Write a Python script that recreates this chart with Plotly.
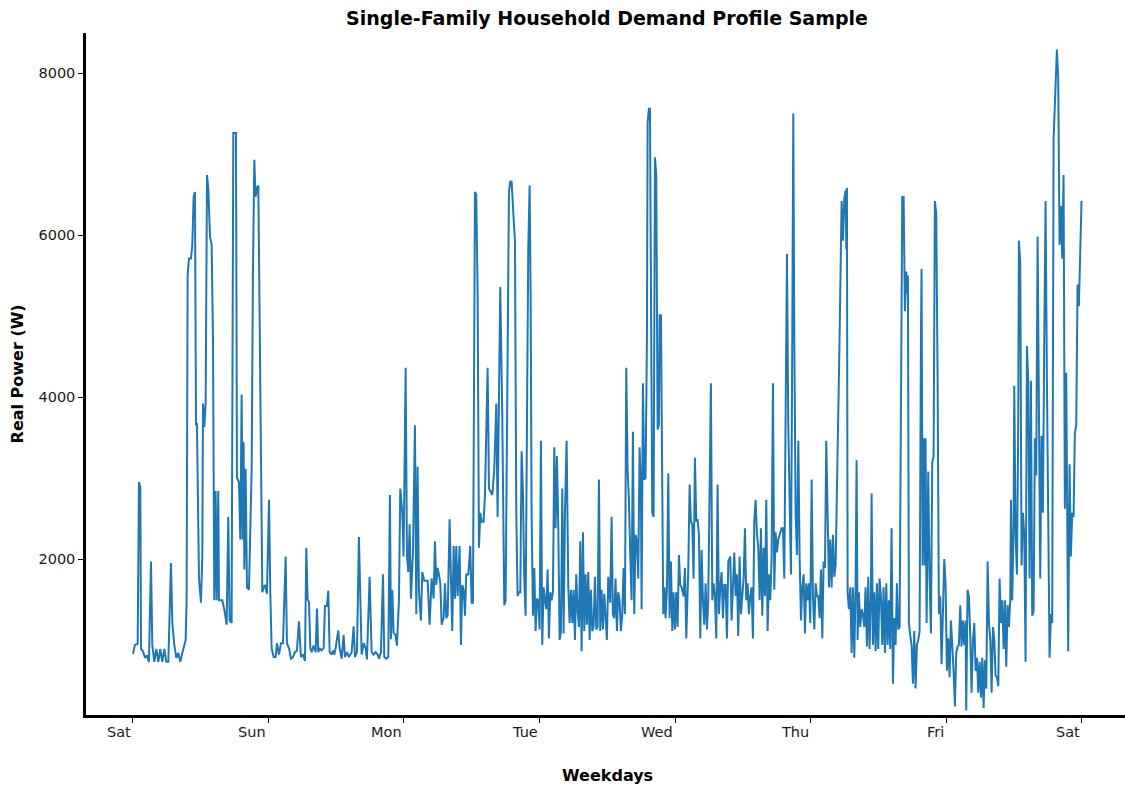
import plotly.graph_objects as go

# One week of household demand, Saturday 00:00 to the following Saturday 00:00.
# Time is given in hours since the start of the week, power in watts.
hours_sat = [0.00, 0.35, 0.83, 1.06, 1.30, 1.42, 1.77, 2.13, 2.48, 2.83, 3.19, 3.42, 3.78, 4.13, 4.49, 4.84,
             5.19, 5.55, 5.90, 6.26, 6.73, 6.97, 7.32, 7.67, 8.03, 8.38, 8.74, 9.09, 9.33, 9.50, 9.68, 9.92,
             10.27, 10.51, 10.74, 10.98, 11.16, 11.33, 11.51, 11.69, 12.04, 12.28, 12.40, 12.64, 12.87, 13.11,
             13.34, 13.64, 13.93, 14.17, 14.40, 14.64, 14.82, 15.11, 15.23, 15.82, 16.17, 16.59, 16.88, 17.12,
             17.47, 17.77, 18.24, 18.42, 18.77, 19.01, 19.25, 19.42, 19.60, 19.72, 19.95, 20.19, 20.54]
watts_sat = [830, 940, 950, 2950, 2890, 890, 860, 780, 810, 730, 1970, 940, 730, 890, 730, 890,
             730, 890, 730, 730, 1950, 1210, 940, 780, 840, 730, 840, 940, 1000, 1490, 5500, 5710,
             5710, 5880, 6470, 6530, 3650, 3680, 2570, 1760, 1460, 2030, 3920, 3630, 3920, 6740,
             6580, 5980, 5880, 4740, 1490, 2840, 1490, 2840, 1490, 1490, 1380, 1190, 2520, 1240,
             1210, 7260, 7260, 3000, 2950, 2240, 4030, 2240, 3440, 1870, 3110, 1650, 1620]

hours_sun = [21.02, 21.25, 21.49, 21.72, 21.96, 22.20, 22.43, 22.67, 22.91, 23.14, 23.38, 23.73, 24.09, 24.32,
             24.56, 24.91, 25.27, 25.50, 25.86, 26.21, 26.57, 27.04, 27.27, 27.63, 27.98, 28.34, 28.69, 29.04,
             29.40, 29.75, 30.11, 30.46, 30.70, 30.93, 31.17, 31.41, 31.64, 32.00, 32.35, 32.59, 32.82, 33.06,
             33.41, 33.77, 34.00, 34.36, 34.59, 34.83, 35.18, 35.42, 35.66, 35.89, 36.36, 36.60, 36.96, 37.31,
             37.55, 37.90, 38.25, 38.73, 39.08, 39.32, 39.67, 40.02, 40.26, 40.50, 40.85, 41.21]
watts_sun = [3110, 5550, 6930, 6470, 6580, 6610, 4740, 2570, 1590, 1650, 1680, 1570, 2730, 1590,
             900, 790, 790, 960, 820, 960, 960, 2030, 960, 900, 770, 790, 850, 870,
             1230, 790, 820, 740, 2140, 1500, 1470, 900, 850, 930, 850, 1390, 850, 900,
             870, 900, 1420, 1420, 1610, 850, 820, 870, 820, 900, 1120, 900, 770, 1060,
             790, 850, 790, 850, 1170, 790, 850, 2270, 1340, 820, 960, 900]

hours_mon = [41.44, 41.91, 42.27, 42.62, 42.98, 43.33, 43.57, 43.92, 44.28, 44.51, 44.86, 45.22, 45.51, 45.69,
             45.93, 46.16, 46.52, 46.75, 47.11, 47.34, 47.70, 47.93, 48.29, 48.53, 48.76, 49.00, 49.23, 49.59,
             49.94, 50.18, 50.41, 50.65, 51.00, 51.24, 51.59, 51.95, 52.19, 52.54, 52.89, 53.25, 53.48, 53.72,
             53.96, 54.19, 54.43, 54.67, 55.02, 55.26, 55.49, 55.73, 56.08, 56.32, 56.55, 56.79, 57.03, 57.26,
             57.50, 57.85, 58.09, 58.32, 58.56, 58.80, 59.03, 59.39, 59.74, 59.98, 60.21, 60.33, 60.57, 60.80,
             61.04, 61.28, 61.51, 61.75, 62.10, 62.34]
watts_mon = [760, 1780, 850, 820, 850, 820, 770, 850, 1810, 790, 770, 790, 2790, 1010,
             1620, 1090, 1060, 930, 1490, 2870, 2570, 2030, 4360, 2030, 1840, 2430, 1510, 2080,
             3650, 1320, 3140, 1590, 1240, 1840, 1730, 1730, 1730, 1190, 1760, 1510, 2220, 1680,
             1890, 1810, 1700, 1190, 1270, 1700, 1270, 1300, 2490, 1760, 1110, 2160, 1510, 2160,
             1540, 2160, 940, 1680, 1620, 1300, 1810, 1810, 2160, 1460, 1460, 3110, 6530, 6500,
             5280, 2140, 2570, 2460, 2460, 2790]

hours_tue = [62.81, 63.05, 63.28, 63.64, 63.99, 64.35, 64.58, 64.82, 65.05, 65.41, 65.76, 66.00, 66.35, 66.59,
             66.83, 67.06, 67.42, 67.65, 67.89, 68.12, 68.36, 68.60, 68.83, 69.07, 69.30, 69.54, 69.78, 70.01,
             70.25, 70.43, 70.60, 70.84, 71.08, 71.31, 71.55, 71.78, 72.02, 72.26, 72.49, 72.73, 72.97, 73.20,
             73.44, 73.67, 73.91, 74.15, 74.38, 74.62, 74.85, 75.09, 75.33, 75.56, 75.80, 76.04, 76.27, 76.51,
             76.80, 77.10, 77.33, 77.57, 77.81, 78.04, 78.28, 78.51, 78.75, 78.99, 79.22, 79.46, 79.70, 79.93,
             80.17, 80.40, 80.64, 80.88, 81.11, 81.35, 81.58, 81.82, 82.06, 82.29, 82.53, 82.76, 83.00, 83.24,
             83.47, 83.71, 83.94, 84.18]
watts_tue = [4360, 2870, 2840, 2790, 3110, 3920, 2520, 3920, 5360, 3760, 1430, 1490, 4740, 6530,
             6660, 6660, 6200, 5930, 2570, 1540, 1590, 1590, 3330, 2840, 1760, 1300, 3650, 5820,
             6610, 5280, 2570, 1300, 1890, 1110, 1510, 1490, 1130, 3460, 940, 1650, 1490, 1380,
             1870, 1020, 1590, 1490, 1590, 3380, 2380, 3270, 2380, 1000, 1110, 2870, 1080, 2570,
             3460, 1650, 1210, 1620, 1210, 1620, 1000, 1810, 1350, 1160, 2220, 860, 2330, 1110,
             1810, 1190, 1840, 1000, 1620, 1110, 1160, 1780, 1130, 1160, 2980, 1110, 1620, 1130,
             1570, 1320, 1000, 1780]

hours_wed = [84.53, 84.77, 85.00, 85.24, 85.47, 85.71, 85.95, 86.18, 86.42, 86.66, 86.89, 87.13, 87.37, 87.60,
             87.84, 88.08, 88.31, 88.55, 88.78, 89.02, 89.26, 89.49, 89.73, 89.97, 90.08, 90.32, 90.56, 90.79,
             91.03, 91.15, 91.38, 91.56, 91.74, 91.97, 92.21, 92.45, 92.68, 92.92, 93.15, 93.27, 93.51, 93.74,
             93.92, 94.16, 94.33, 94.57, 94.81, 95.04, 95.28, 95.52, 95.75, 95.99, 96.22, 96.46, 96.70, 96.93,
             97.17, 97.52, 97.76, 98.00, 98.35, 98.59, 98.82, 99.06, 99.29, 99.53, 99.77, 100.00, 100.24, 100.48,
             100.71, 100.95, 101.18, 101.42, 101.66, 101.89, 102.13, 102.36, 102.60, 102.84, 103.07, 103.31,
             103.54, 103.78, 104.02, 104.25, 104.49, 104.73, 104.96, 105.20, 105.44]
watts_wed = [1460, 2520, 1320, 1270, 1760, 1110, 1590, 1490, 1110, 1320, 1890, 1320, 4360, 3110,
             2730, 2030, 1490, 3570, 1320, 2300, 2220, 1760, 3380, 2840, 1380, 4170, 2980, 3000,
             4740, 7390, 7560, 7560, 5820, 2570, 2520, 6960, 6740, 3600, 3650, 5010, 5010, 3110,
             1320, 1650, 1270, 1620, 3060, 1270, 1970, 1110, 1590, 1130, 1590, 1160, 2050, 1680,
             1650, 1540, 1890, 1020, 1870, 2920, 2460, 2430, 1760, 3250, 2460, 2490, 2300, 1020,
             2110, 1490, 1190, 1700, 1130, 1490, 2620, 4170, 1490, 1700, 1540, 1020,
             2920, 1320, 1650, 1840, 1270, 1680, 1680, 1020, 1970]

hours_thu = [105.79, 106.02, 106.26, 106.50, 106.73, 106.97, 107.20, 107.44, 107.68, 107.91, 108.15, 108.39,
             108.62, 108.86, 109.09, 109.33, 109.57, 109.80, 110.04, 110.28, 110.51, 110.75, 110.99, 111.22,
             111.46, 111.69, 111.93, 112.17, 112.40, 112.64, 112.88, 113.11, 113.35, 113.58, 113.82, 114.06,
             114.29, 114.53, 114.88, 115.12, 115.36, 115.59, 115.83, 116.06, 116.30, 116.54, 116.77, 116.95,
             117.13, 117.36, 117.60, 117.84, 118.07, 118.31, 118.54, 118.78, 119.02, 119.25, 119.49, 119.72,
             119.96, 120.20, 120.43, 120.67, 120.91, 121.14, 121.38, 121.61, 121.85, 122.09, 122.32, 122.56,
             122.79, 123.03, 123.27, 123.50, 123.74, 123.98, 124.21, 124.45, 124.80, 125.15, 125.51, 125.74,
             125.98, 126.21]
watts_thu = [2030, 1240, 1760, 2080, 1540, 1810, 1050, 2030, 1320, 1540, 1760, 2380,
             1490, 1700, 1320, 1540, 1650, 1020, 2460, 2730, 2300, 2140, 1490, 2380,
             1300, 2140, 1540, 2730, 1110, 1810, 1490, 2030, 4170, 1620, 2330, 2080,
             2240, 2300, 2380, 2380, 1760, 3760, 5770, 3650, 2570, 1810, 4740, 7500,
             4740, 2570, 2050, 3460, 2030, 1240, 1650, 1810, 1080, 1700, 1490, 1700,
             1210, 2980, 1540, 1130, 1700, 1540, 1540, 1270, 1870, 1020, 1970, 1890,
             3460, 2680, 1650, 2240, 1650, 2300, 1780, 1920, 3110, 4740, 6420, 5930,
             6440, 6550]

hours_fri = [126.34, 126.45, 126.57, 126.80, 127.04, 127.28, 127.51, 127.75, 127.98, 128.16, 128.34, 128.57,
             128.81, 129.05, 129.28, 129.52, 129.75, 129.99, 130.23, 130.46, 130.70, 130.82, 131.05, 131.29,
             131.53, 131.76, 132.00, 132.23, 132.47, 132.71, 132.94, 133.18, 133.42, 133.65, 133.89, 134.12,
             134.36, 134.60, 134.83, 135.07, 135.31, 135.54, 135.78, 136.01, 136.25, 136.49, 136.72, 136.96,
             137.08, 137.25, 137.43, 137.67, 137.90, 138.14, 138.38, 138.61, 138.85, 139.08, 139.32, 139.56,
             139.67, 139.85, 140.03, 140.26, 140.38, 140.56, 140.85, 141.09, 141.33, 141.56, 141.80, 142.03,
             142.27, 142.51, 142.74, 142.98, 143.21, 143.45, 143.69, 143.92, 144.16, 144.39, 144.63, 144.87,
             145.10, 145.34, 145.57, 145.81, 146.05, 146.28, 146.52, 146.75, 146.99, 147.23, 147.46, 147.58,
             147.82, 148.05]
watts_fri = [5820, 6580, 1590, 1380, 1650, 840, 1650, 780, 1650, 3220, 1000, 1590,
             1160, 1380, 1320, 1160, 1650, 920, 1780, 890, 1540, 2810, 940, 1590,
             860, 1700, 890, 1760, 1540, 940, 1650, 840, 1700, 940, 1490, 890,
             2380, 460, 1270, 940, 1700, 1130, 1160, 3650, 6470, 6470, 5060, 5550,
             5280, 5500, 1210, 1050, 940, 460, 1110, 400, 940, 1000, 1110, 4740,
             5580, 1920, 3490, 1920, 3490, 1210, 3080, 1760, 1080, 3190, 3270, 6420,
             6260, 4200, 1320, 1540, 700, 1320, 2000, 1700, 620, 1020, 540, 1240,
             970, 620, 180, 840, 920, 940, 1430, 920, 1240, 940, 1240, 130,
             1620, 1540]

hours_end = [148.30, 148.53, 148.77, 149.01, 149.24, 149.48, 149.71, 149.95, 150.19, 150.42, 150.66, 150.89,
             151.13, 151.37, 151.60, 151.84, 152.08, 152.31, 152.55, 152.78, 153.02, 153.26, 153.49, 153.73,
             153.96, 154.20, 154.44, 154.67, 154.91, 155.14, 155.38, 155.50, 155.73, 155.97, 156.09, 156.32,
             156.56, 156.79, 156.91, 157.15, 157.38, 157.62, 157.86, 158.09, 158.33, 158.56, 158.80, 159.04,
             159.27, 159.51, 159.74, 159.98, 160.22, 160.45, 160.69, 160.92, 161.16, 161.40, 161.63, 161.87,
             162.10, 162.34, 162.58, 162.81, 163.05, 163.28, 163.64, 163.87, 164.11, 164.35, 164.58, 164.82,
             165.05, 165.29, 165.41, 165.64, 165.88, 166.12, 166.35, 166.59, 166.82, 167.06, 167.30, 167.53,
             168.00]
watts_end = [1050, 350, 1000, 1210, 620, 780, 350, 730, 290, 780, 160, 750,
             400, 1970, 1210, 1000, 350, 1160, 1000, 560, 540, 430, 1760, 1210,
             1490, 890, 1490, 670, 1430, 1160, 1490, 2730, 1490, 2410, 4140, 2300,
             1810, 3650, 5930, 5660, 1920, 2570, 2300, 730, 4630, 4200, 1760, 4200,
             1300, 1350, 3490, 3030, 5980, 4200, 1760, 3520, 2570, 4740, 6420, 4200,
             2030, 780, 1320, 1210, 7180, 7720, 8290, 7940, 5880, 6360, 5710, 6740,
             2620, 4300, 2790, 860, 3170, 2030, 2570, 2520, 3550, 3650, 5390, 5120,
             6420]

day_labels = ["Sat", "Sun", "Mon", "Tue", "Wed", "Thu", "Fri", "Sat"]
day_hours = [24 * i for i in range(len(day_labels))]
power_ticks = [2000, 4000, 6000, 8000]

hours = (hours_sat + hours_sun + hours_mon + hours_tue + hours_wed
         + hours_thu + hours_fri + hours_end)
watts = (watts_sat + watts_sun + watts_mon + watts_tue + watts_wed
         + watts_thu + watts_fri + watts_end)

FONT = "DejaVu Sans"
INK = "#1a1a1a"

fig = go.Figure()
fig.add_trace(go.Scatter(
    x=hours, y=watts, mode="lines",
    line=dict(color="#1f77b4", width=2),
    showlegend=False, hoverinfo="skip",
))

# Weekday names sit just left of their tick, right-aligned to it.
annotations = [
    dict(x=h, y=0, xref="x", yref="paper", text=lab, showarrow=False,
         xanchor="right", yanchor="top", yshift=-7,
         font=dict(family=FONT, size=14.5, color=INK))
    for h, lab in zip(day_hours, day_labels)
]
annotations.append(dict(
    x=0.502, y=-0.088, xref="paper", yref="paper", text="<b>Weekdays</b>",
    showarrow=False, xanchor="center", yanchor="middle",
    font=dict(family=FONT, size=16, color="black")))
annotations.append(dict(
    x=-0.066, y=0.5, xref="paper", yref="paper", text="<b>Real Power (W)</b>",
    showarrow=False, xanchor="center", yanchor="middle", textangle=-90,
    font=dict(family=FONT, size=16, color="black")))

fig.update_layout(
    width=1125, height=786,
    margin=dict(l=86, r=0, t=33, b=71),
    paper_bgcolor="white", plot_bgcolor="white",
    title=dict(text="<b>Single-Family Household Demand Profile Sample</b>",
               x=0.5396, xref="container", xanchor="center",
               y=0.977, yref="container", yanchor="middle",
               font=dict(family=FONT, size=19, color="black")),
    annotations=annotations,
)
fig.update_xaxes(
    range=[-8.32, 175.7], showgrid=False, zeroline=False,
    showline=True, linecolor="black", linewidth=2.5,
    tickmode="array", tickvals=day_hours, showticklabels=False,
    ticks="outside", ticklen=5, tickwidth=1.2, tickcolor="black",
)
fig.update_yaxes(
    range=[74, 8494], showgrid=False, zeroline=False,
    showline=True, linecolor="black", linewidth=2.5,
    tickmode="array", tickvals=power_ticks,
    ticks="outside", ticklen=5, tickwidth=1.2, tickcolor="black",
    tickfont=dict(family=FONT, size=14.5, color=INK),
)

fig.write_html("out.html")
